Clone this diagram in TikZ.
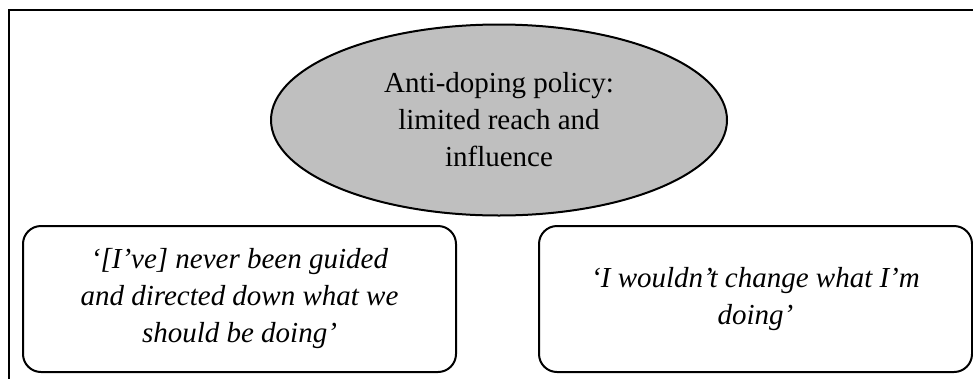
\documentclass[tikz,border=0pt]{standalone}
\usepackage{fontspec}
\setmainfont{Liberation Serif}
\usetikzlibrary{positioning,shapes.geometric}

\begin{document}
\begin{tikzpicture}[x=1pt,y=-1pt,line width=2pt]
  \tikzstyle{topic}=[ellipse, draw, fill=black!25, inner sep=0pt,
                     minimum width=456pt, minimum height=191pt, align=center,
                     font=\fontsize{29}{37}\selectfont]
  \tikzstyle{quote}=[rectangle, draw, rounded corners=18pt, inner sep=0pt,
                     minimum width=433pt, minimum height=146pt, align=center,
                     font=\fontsize{29}{37}\selectfont\itshape]

  \useasboundingbox (0,0) rectangle (973,378);
  \draw[line width=2.5pt] (990,10) -- (9,10) -- (9,395);

  \node[topic] (policy) at (499,120) {Anti-doping policy:\\ limited reach and\\ influence};
  \node[quote] (guided) at (239.5,299) {‘[I’ve] never been guided\\ and directed down what we\\ should be doing’};
  \node[quote] (change) [right=81pt of guided] {‘I wouldn’t change what I’m\\ doing’};

\end{tikzpicture}
\end{document}
